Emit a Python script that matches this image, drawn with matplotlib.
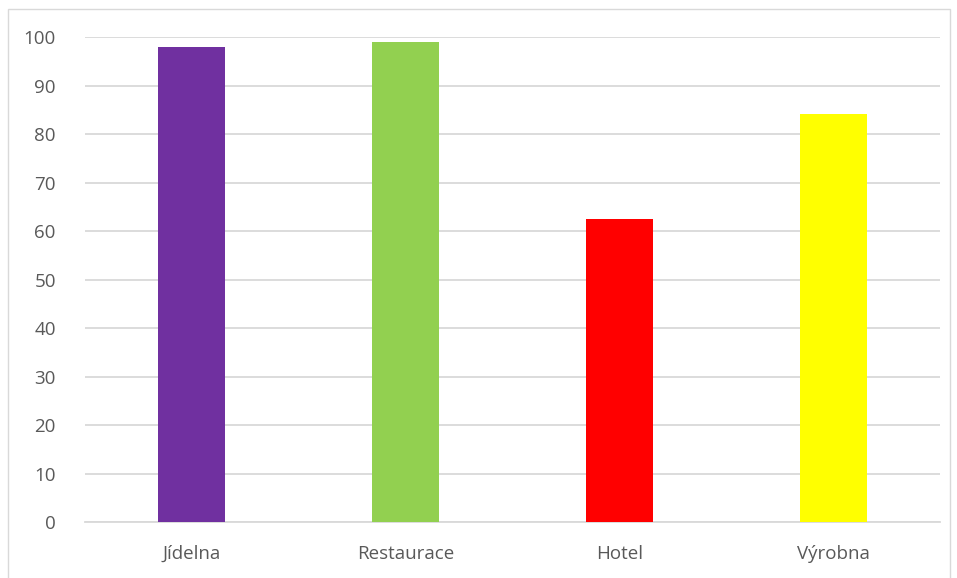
import matplotlib
matplotlib.use('Agg')
import matplotlib.pyplot as plt
from matplotlib.patches import Rectangle

# data ------------------------------------------------
categories = ['Jídelna', 'Restaurace', 'Hotel', 'Výrobna']
values = [97.9, 99.0, 62.6, 84.2]
colors = ['#7030A0', '#92D050', '#FF0000', '#FFFF00']
yticks = [0, 10, 20, 30, 40, 50, 60, 70, 80, 90, 100]

plt.rcParams['font.family'] = ['Open Sans', 'DejaVu Sans']

fig = plt.figure(figsize=(9.57, 5.78), dpi=100)
# chart frame
fig.patches.append(Rectangle((8/957, -0.05), 942/957, 1.05 - 9/578, transform=fig.transFigure,
                             fill=False, edgecolor='#D9D9D9', linewidth=1))

ax = fig.add_axes([85/957, 1-522.3/578, 855/957, (522.3-37.3)/578])
x = range(len(categories))
ax.bar(x, values, width=0.313, color=colors, zorder=3)
ax.set_xlim(-0.5, len(categories)-0.5)
ax.set_ylim(0, 100)
ax.set_yticks(yticks)
ax.set_xticks(list(x))
ax.set_xticklabels(categories)
ax.grid(axis='y', color='#D9D9D9', linewidth=1.3, zorder=0)
for s in ['top', 'right', 'left']:
    ax.spines[s].set_visible(False)
ax.spines['bottom'].set_color('#D9D9D9')
ax.spines['bottom'].set_linewidth(1.3)
ax.tick_params(axis='both', length=0, labelsize=13.5, colors='#595959')
ax.tick_params(axis='y', pad=21)
ax.tick_params(axis='x', pad=16)

plt.savefig('out.png', dpi=100)
